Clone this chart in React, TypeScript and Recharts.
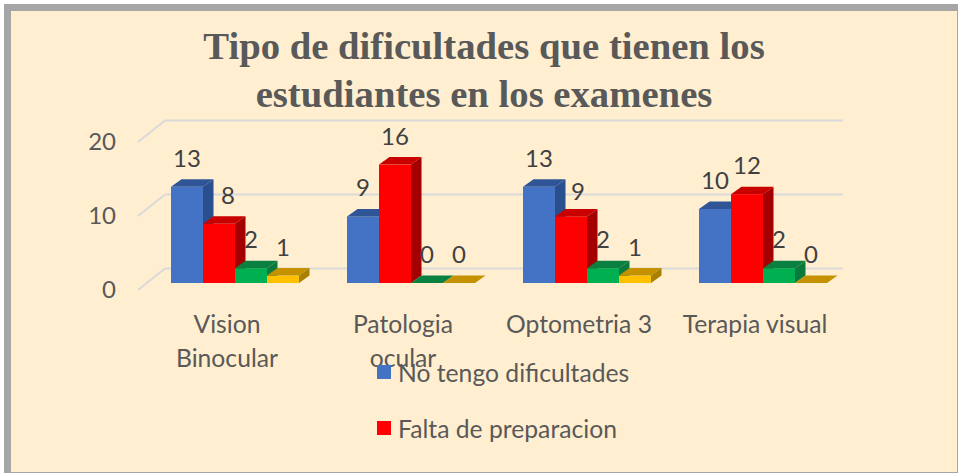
import { Bar, BarChart, CartesianGrid, Legend, XAxis, YAxis } from 'recharts';

const categories = ['Vision Binocular', 'Patologia ocular', 'Optometria 3', 'Terapia visual'];
const noDificultad = [13, 9, 13, 10];
const faltaPreparacion = [8, 16, 9, 12];
const serieVerde = [2, 0, 2, 2];
const serieAmarilla = [1, 0, 1, 0];
const yTicks = [0, 10, 20];
const titleLines = ['Tipo de dificultades que tienen los', 'estudiantes en los examenes'];

const chartData = categories.map((name, i) => ({
  name,
  noDificultad: noDificultad[i],
  faltaPreparacion: faltaPreparacion[i],
  serieVerde: serieVerde[i],
  serieAmarilla: serieAmarilla[i],
}));

const FONT = 'Lato, sans-serif';
const TEXT = '#595959';
const DX = 10.5;
const DY = 7.5;

function bar3d(front: string, top: string, side: string) {
  return function Shape3d({ x, y, width, height }: any) {
    const r = x + width;
    const b = y + height;
    return (
      <g>
        <rect x={x} y={y} width={width} height={height} fill={front} />
        <polygon points={`${x},${y} ${x + DX},${y - DY} ${r + DX},${y - DY} ${r},${y}`} fill={top} />
        <polygon points={`${r},${y} ${r + DX},${y - DY} ${r + DX},${b - DY} ${r},${b}`} fill={side} />
      </g>
    );
  };
}

function renderLabel({ x, y, width, value }: any, dx = 0, dy = 0) {
  return (
    <text x={x + width / 2 + dx} y={y - 20 + dy} textAnchor="middle" fontFamily={FONT} fontSize={24} fill="#404040">
      {value}
    </text>
  );
}

// the red 8 and 9 sit off to the right of their bars in the original
function renderRedLabel(props: any) {
  if (props.index === 0) return renderLabel(props, 9, 0);
  if (props.index === 2) return renderLabel(props, 7, 4);
  return renderLabel(props);
}

function GridLine({ x1, x2, y1 }: any) {
  return (
    <g stroke="#D9D9D9" strokeWidth={2} fill="none">
      <line x1={x1 - 9} y1={y1 + 7} x2={x1 + 18} y2={y1 - 14.5} />
      <line x1={x1 + 18} y1={y1 - 14.5} x2={x2 - 8} y2={y1 - 14.5} />
    </g>
  );
}

function CategoryTick({ x, y, payload }: any) {
  const words = String(payload.value);
  const lines = words.startsWith('Vision') || words.startsWith('Patologia') ? words.split(' ') : [words];
  return (
    <text x={x - 8} y={y + 50} textAnchor="middle" fontFamily={FONT} fontSize={24.7} fill={TEXT}>
      {lines.map((line: string, i: number) => (
        <tspan key={line} x={x - 8} dy={i === 0 ? -8 : 34}>
          {line}
        </tspan>
      ))}
    </text>
  );
}

function ValueTick({ y, payload }: any) {
  return (
    <text x={116} y={y + 15} textAnchor="end" fontFamily={FONT} fontSize={24} fill={TEXT}>
      {payload.value}
    </text>
  );
}

function LegendBox({ payload }: any) {
  return (
    <div style={{ fontFamily: FONT, fontSize: 24.7, color: TEXT }}>
      {payload.map((entry: any) => (
        <div key={entry.value} style={{ display: 'flex', alignItems: 'center', height: 56 }}>
          <span style={{ width: 14, height: 14, background: entry.color, marginRight: 7 }} />
          {entry.value}
        </div>
      ))}
    </div>
  );
}

export default function App() {
  return (
    <div
      style={{
        position: 'absolute',
        left: 0,
        top: 0,
        width: 958,
        height: 473,
        background: '#FFFFFF',
        overflow: 'hidden',
      }}
    >
      <div
        style={{
          position: 'absolute',
          left: 4,
          top: 4,
          right: 0,
          bottom: 0,
          background: '#FFEFD0',
          borderStyle: 'solid',
          borderColor: '#A6A6A6',
          borderWidth: '7px 1px 1px 7px',
        }}
      />
      <div
        style={{
          position: 'absolute',
          left: 0,
          top: 22,
          width: 968,
          textAlign: 'center',
          fontFamily: '"Liberation Serif", serif',
          fontWeight: 700,
          fontSize: 38.7,
          lineHeight: '48px',
          color: TEXT,
        }}
      >
        {titleLines.map((line) => (
          <div key={line}>{line}</div>
        ))}
      </div>
      <BarChart
        width={958}
        height={473}
        data={chartData}
        barSize={32}
        barGap={0}
        margin={{ top: 135, right: 107, bottom: 130, left: 87 }}
        style={{ position: 'absolute', left: 0, top: 0 }}
      >
        <CartesianGrid vertical={false} horizontal={(p: any) => <GridLine key={p.y1} {...p} />} />
        <XAxis dataKey="name" axisLine={false} tickLine={false} tick={CategoryTick} height={60} interval={0} />
        <YAxis domain={[0, 20]} ticks={yTicks} axisLine={false} tickLine={false} tick={ValueTick} width={60} />
        <Legend
          layout="horizontal"
          verticalAlign="middle"
          align="center"
          itemSorter={null}
          content={LegendBox}
          wrapperStyle={{ left: 377, top: 344, width: 300 }}
        />
        <Bar
          dataKey="noDificultad"
          name="No tengo dificultades"
          fill="#4472C4"
          shape={bar3d('#4472C4', '#2F5597', '#2A4F8F')}
          label={(p: any) => renderLabel(p)}
          isAnimationActive={false}
        />
        <Bar
          dataKey="faltaPreparacion"
          name="Falta de preparacion"
          fill="#FF0000"
          shape={bar3d('#FF0000', '#C80000', '#A50000')}
          label={renderRedLabel}
          isAnimationActive={false}
        />
        <Bar
          dataKey="serieVerde"
          legendType="none"
          fill="#00B050"
          shape={bar3d('#00B050', '#0A8040', '#0A7A3C')}
          label={(p: any) => renderLabel(p)}
          isAnimationActive={false}
        />
        <Bar
          dataKey="serieAmarilla"
          legendType="none"
          fill="#FFC000"
          shape={bar3d('#FFC000', '#C49200', '#A88000')}
          label={(p: any) => renderLabel(p)}
          isAnimationActive={false}
        />
      </BarChart>
    </div>
  );
}
